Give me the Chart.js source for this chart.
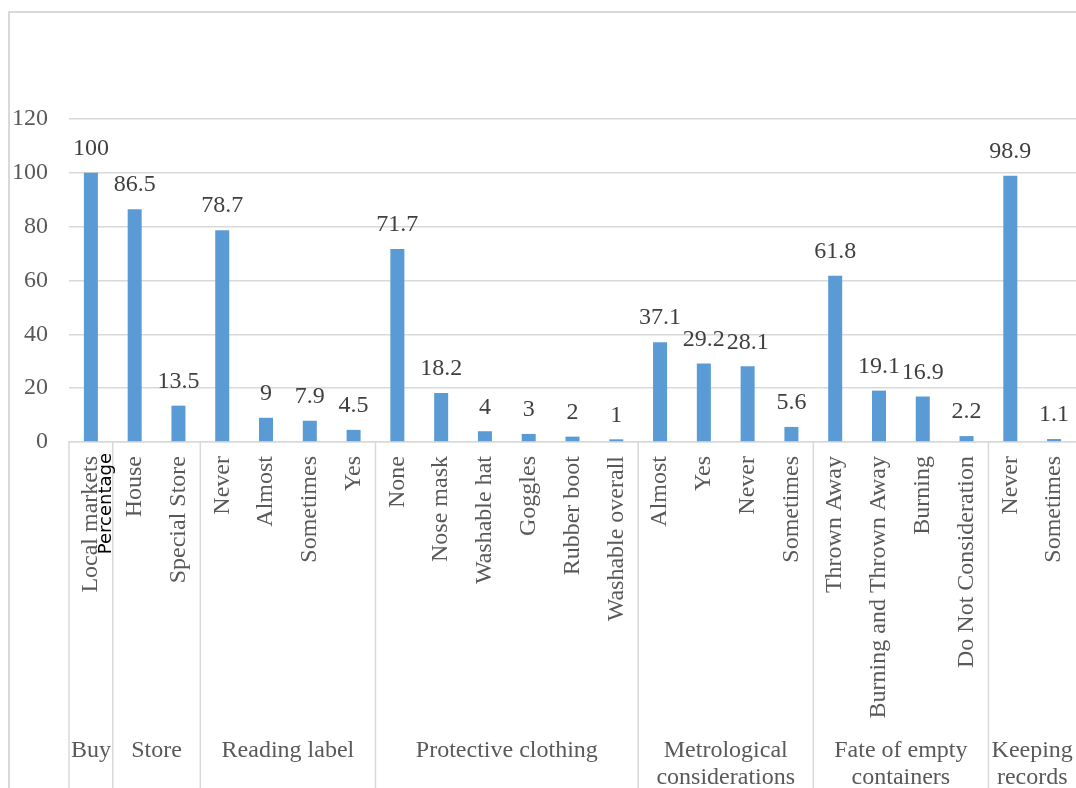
<!DOCTYPE html>
<html>
<head>
<meta charset="utf-8">
<script src="https://cdn.jsdelivr.net/npm/chart.js@4/dist/chart.umd.min.js"></script>
<style>
  html, body { margin: 0; padding: 0; background: #ffffff; }
  canvas { display: block; }
</style>
</head>
<body>
<canvas id="c" width="1076" height="788"></canvas>
<script>
// Survey answers, one bar per answer, grouped by question
const categories = [
  'Local markets',
  'House', 'Special Store',
  'Never', 'Almost', 'Sometimes', 'Yes',
  'None', 'Nose mask', 'Washable hat', 'Goggles', 'Rubber boot', 'Washable overall',
  'Almost', 'Yes', 'Never', 'Sometimes',
  'Thrown Away', 'Burning and Thrown Away', 'Burning', 'Do Not Consideration',
  'Never', 'Sometimes'
];
const percentages = [
  100,
  86.5, 13.5,
  78.7, 9, 7.9, 4.5,
  71.7, 18.2, 4, 3, 2, 1,
  37.1, 29.2, 28.1, 5.6,
  61.8, 19.1, 16.9, 2.2,
  98.9, 1.1
];
const groupNames = [
  ['Buy'], ['Store'], ['Reading label'], ['Protective clothing'],
  ['Metrological', 'considerations'], ['Fate of empty', 'containers'], ['Keeping', 'records']
];
const groupSizes = [1, 2, 4, 6, 4, 4, 2];
const yTicks = [0, 20, 40, 60, 80, 100, 120];
const axisTitle = 'Percentage';

const SERIF = '"Liberation Serif", "Times New Roman", serif';
const GRID = '#d9d9d9';
const FONT_SIZE = 24;

const decorations = {
  id: 'decorations',
  afterDraw(chart) {
    const ctx = chart.ctx;
    const xs = chart.scales.x;
    const area = chart.chartArea;
    const H = chart.height, W = chart.width;
    const step = xs.getPixelForValue(1) - xs.getPixelForValue(0);
    const half = step / 2;

    ctx.save();
    // outer frame
    ctx.strokeStyle = GRID;
    ctx.lineWidth = 2;
    ctx.beginPath();
    ctx.moveTo(9, H);
    ctx.lineTo(9, 12);
    ctx.lineTo(W, 12);
    ctx.stroke();

    // group separators under the axis
    ctx.lineWidth = 1.5;
    ctx.beginPath();
    let idx = 0;
    const bounds = [xs.getPixelForValue(0) - half];
    groupSizes.forEach(n => { idx += n; bounds.push(xs.getPixelForValue(idx - 1) + half); });
    bounds.forEach(b => {
      if (b < W - 1) { ctx.moveTo(b, area.bottom); ctx.lineTo(b, H); }
    });
    ctx.stroke();

    // answer labels, rotated
    ctx.fillStyle = '#595959';
    ctx.font = FONT_SIZE + 'px ' + SERIF;
    ctx.textAlign = 'right';
    ctx.textBaseline = 'middle';
    categories.forEach((c, i) => {
      const x = xs.getPixelForValue(i);
      ctx.save();
      ctx.translate(x, area.bottom + 14);
      ctx.rotate(-Math.PI / 2);
      ctx.fillText(c, 0, 0);
      ctx.restore();
    });

    // question labels
    ctx.textAlign = 'center';
    idx = 0;
    groupSizes.forEach((n, g) => {
      const left = xs.getPixelForValue(idx) - half;
      const right = xs.getPixelForValue(idx + n - 1) + half;
      const cx = (left + right) / 2;
      groupNames[g].forEach((line, k) => {
        ctx.fillText(line, cx, 751 + k * 27);
      });
      idx += n;
    });

    // value labels above the bars
    ctx.fillStyle = '#404040';
    const meta = chart.getDatasetMeta(0);
    meta.data.forEach((bar, i) => {
      ctx.fillText(String(percentages[i]), bar.x, bar.y - 24);
    });

    // axis title
    ctx.fillStyle = '#000000';
    ctx.font = '18px "DejaVu Sans", sans-serif';
    ctx.textAlign = 'right';
    ctx.save();
    ctx.translate(106, 453);
    ctx.rotate(-Math.PI / 2);
    ctx.fillText(axisTitle, 0, 0);
    ctx.restore();

    ctx.restore();
  }
};

new Chart(document.getElementById('c'), {
  type: 'bar',
  data: {
    labels: categories,
    datasets: [{
      data: percentages,
      backgroundColor: '#5b9bd5',
      borderWidth: 0,
      categoryPercentage: 1,
      barPercentage: 0.32
    }]
  },
  options: {
    responsive: false,
    animation: false,
    events: [],
    layout: { padding: { top: 119, left: 0, right: 0, bottom: 0 } },
    plugins: { legend: { display: false }, tooltip: { enabled: false } },
    scales: {
      x: {
        grid: { display: false },
        ticks: { display: false },
        border: { display: true, color: GRID, width: 1.5 },
        afterFit: s => { s.height = 346; }
      },
      y: {
        min: 0,
        max: 120,
        afterBuildTicks: s => { s.ticks = yTicks.map(v => ({ value: v })); },
        grid: { color: GRID, lineWidth: 1.5, drawTicks: false },
        border: { display: false },
        ticks: {
          color: '#595959',
          font: { family: SERIF, size: FONT_SIZE },
          padding: 21
        },
        afterFit: s => { s.width = 69; }
      }
    }
  },
  plugins: [decorations]
});
</script>
</body>
</html>
